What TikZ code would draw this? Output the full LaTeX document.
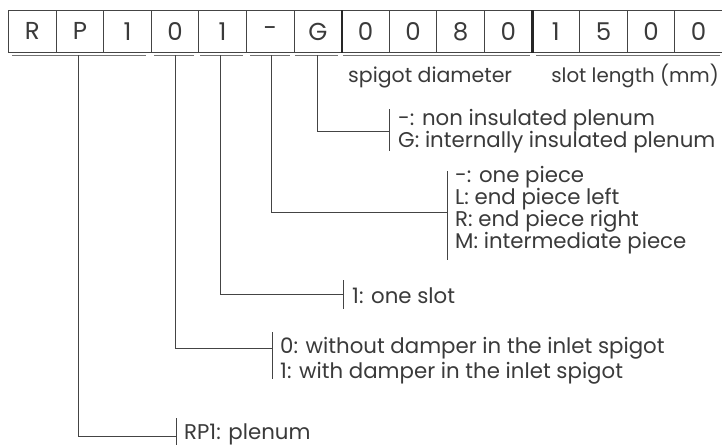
\documentclass[tikz,border=0pt]{standalone}
\usepackage{fontspec}
\setmainfont{Poppins}
\definecolor{ink}{HTML}{3A3A3A}
\definecolor{rule}{HTML}{444444}
\begin{document}
\begin{tikzpicture}[x=1pt,y=-1pt,
  cell/.style={draw=rule,line width=0.9pt,minimum width=47.6pt,minimum height=42pt,inner sep=0pt,anchor=north west,font=\fontsize{24.5}{24.5}\selectfont,text=ink},
  lbl/.style={anchor=base west,inner sep=0pt,font=\fontsize{21.3}{22}\selectfont,text=ink},
  con/.style={draw=rule,line width=0.9pt},
  uline/.style={draw=black!55,line width=1pt},
  thick sep/.style={draw=black!85,line width=2.6pt}]
\useasboundingbox (0,0) rectangle (722,445);
% code cells
\foreach \t [count=\i] in {R,P,1,0,1,-,G,0,0,8,0,1,5,0,0}{
  \node[cell] (c\i) at ({8+47.6*(\i-1)},10) {\t};
}
\draw[thick sep] (c7.north east) -- (c7.south east);
\draw[thick sep] (c11.north east) -- (c11.south east);
% underlines
\coordinate (uRa) at (12,55); \coordinate (uRb) at (146,55);
\coordinate (u0a) at (154,55); \coordinate (u0b) at (194,55);
\coordinate (u1a) at (200,55); \coordinate (u1b) at (243,55);
\coordinate (uMa) at (250,55); \coordinate (uMb) at (290,55);
\coordinate (uGa) at (295,55); \coordinate (uGb) at (338,55);
\coordinate (uSa) at (343,55); \coordinate (uSb) at (530,55);
\coordinate (uLa) at (536,55); \coordinate (uLb) at (720,55);
\foreach \n in {R,0,1,M,G,S,L}{\draw[uline] (u\n a) -- (u\n b);}
% group labels
\node[lbl,font=\fontsize{20.5}{22}\selectfont] (spig) at (348,82) {spigot diameter};
\node[lbl,anchor=base east,font=\fontsize{19.8}{22}\selectfont] (slot) at (719,82) {slot length (mm)};
% connector start points
\coordinate (sR) at (78,55);
\coordinate (s0) at (175,55);
\coordinate (s1) at (220,55);
\coordinate (sM) at (271,55);
\coordinate (sG) at (317,55);
% brackets
\coordinate (bGt) at (389,109); \coordinate (bGb) at (389,151); \coordinate (bG) at (389,131);
\coordinate (bMt) at (447,171); \coordinate (bMb) at (447,260); \coordinate (bM) at (447,212);
\coordinate (b1t) at (343,280); \coordinate (b1b) at (343,309); \coordinate (b1) at (343,294);
\coordinate (b0t) at (272,332); \coordinate (b0b) at (272,379); \coordinate (b0) at (272,348);
\coordinate (bRt) at (176,418); \coordinate (bRb) at (176,445); \coordinate (bR) at (176,436);
\foreach \n in {G,M,1,0,R}{
  \draw[con] (b\n t) -- (b\n b);
  \draw[con] (s\n) |- (b\n);
}
% texts
\node[lbl] (g1) at (398,125) {-: non insulated plenum};
\node[lbl] (g2) at (398,147) {G: internally insulated plenum};
\node[lbl] (m1) at (455,182) {-: one piece};
\node[lbl] (m2) at (455,204) {L: end piece left};
\node[lbl] (m3) at (455,226) {R: end piece right};
\node[lbl] (m4) at (455,248) {M: intermediate piece};
\node[lbl] (o1) at (352,303) {1: one slot};
\node[lbl] (d1) at (280,353) {0: without damper in the inlet spigot};
\node[lbl] (d2) at (280,378) {1: with damper in the inlet spigot};
\node[lbl] (r1) at (184,439) {RP1: plenum};
\end{tikzpicture}
\end{document}
